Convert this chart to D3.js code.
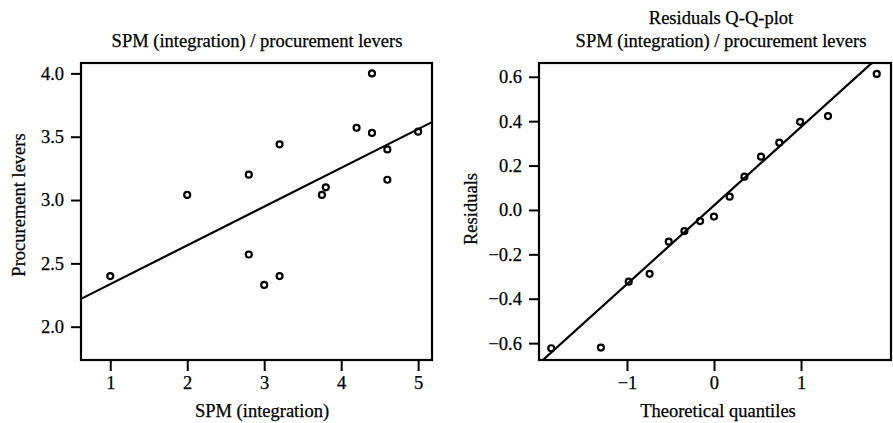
<!DOCTYPE html>
<html>
<head>
<meta charset="utf-8">
<script src="https://cdn.jsdelivr.net/npm/d3@7"></script>
<style>
  html, body { margin: 0; padding: 0; background: #fff; }
  svg { display: block; }
  text { font-family: "Liberation Serif", "Times New Roman", serif; fill: #000; stroke: #000; stroke-width: 0.25px; }
</style>
</head>
<body>
<svg id="chart" width="893" height="423"></svg>
<script>
// ---------- DATA ----------
// Left panel: scatter of SPM (integration) vs Procurement levers
const spmIntegration = [1, 2, 2.8, 2.8, 3, 3.2, 3.2, 3.75, 3.8, 4.2, 4.4, 4.4, 4.6, 4.6, 5];
const procurementLevers = [2.40, 3.04, 3.20, 2.57, 2.33, 2.40, 3.44, 3.04, 3.10, 3.57, 4.00, 3.53, 3.40, 3.16, 3.54];
// Fitted regression line [intercept, slope]
const fitLine = [2.03, 0.306];
const leftXTicks = [1, 2, 3, 4, 5];
const leftYTicks = [2.0, 2.5, 3.0, 3.5, 4.0];

// Right panel: residuals Q-Q plot
const theoreticalQuantiles = [-1.87, -1.30, -0.98, -0.74, -0.52, -0.34, -0.16, 0, 0.18, 0.35, 0.54, 0.75, 0.99, 1.31, 1.87];
const sampleResiduals = [-0.623, -0.620, -0.323, -0.288, -0.143, -0.095, -0.050, -0.030, 0.060, 0.150, 0.240, 0.303, 0.397, 0.423, 0.613];
// Q-Q reference line [intercept, slope]
const qqLine = [0.02, 0.354];
const rightXTicks = [-1, 0, 1];
const rightYTicks = [-0.6, -0.4, -0.2, 0.0, 0.2, 0.4, 0.6];

const leftTitle = ["SPM (integration) / procurement levers"];
const rightTitle = ["Residuals Q-Q-plot", "SPM (integration) / procurement levers"];

// ---------- DRAWING ----------
const svg = d3.select("#chart");
const FS = 18.5;

function panel(opts) {
  const { box, xDomain, yDomain, xs, ys, line, xTicks, yTicks, yFmt, titles, titleX, titleBase,
          xLabel, xLabelX, yLabel, yLabelY, yLabelX, id } = opts;
  const x = d3.scaleLinear().domain(xDomain).range([box.x0, box.x1]);
  const y = d3.scaleLinear().domain(yDomain).range([box.y1, box.y0]);
  const g = svg.append("g");

  g.append("clipPath").attr("id", id).append("rect")
    .attr("x", box.x0).attr("y", box.y0)
    .attr("width", box.x1 - box.x0).attr("height", box.y1 - box.y0);

  // Regression / reference line
  const lf = d3.line().x(d => x(d)).y(d => y(line[0] + line[1] * d));
  g.append("path")
    .attr("clip-path", `url(#${id})`)
    .attr("d", lf(xDomain))
    .attr("fill", "none").attr("stroke", "#000").attr("stroke-width", 2.2);

  // Points
  g.selectAll("circle.pt").data(xs.map((v, i) => [v, ys[i]])).enter()
    .append("circle").attr("class", "pt")
    .attr("cx", d => x(d[0])).attr("cy", d => y(d[1]))
    .attr("r", 3).attr("fill", "none").attr("stroke", "#000").attr("stroke-width", 2.2);

  // Axes
  const xAxis = d3.axisBottom(x).tickValues(xTicks).tickSize(11).tickPadding(5)
    .tickFormat(d3.format("d"));
  const gx = g.append("g").attr("transform", `translate(0,${box.y1})`).call(xAxis);
  const yAxis = d3.axisLeft(y).tickValues(yTicks).tickSize(10).tickPadding(7)
    .tickFormat(yFmt);
  const gy = g.append("g").attr("transform", `translate(${box.x0},0)`).call(yAxis);
  [gx, gy].forEach(a => {
    a.select(".domain").remove();
    a.selectAll(".tick line").attr("stroke", "#000").attr("stroke-width", 2);
    a.selectAll(".tick text").attr("font-family", "Liberation Serif").attr("font-size", FS).attr("fill", "#000");
  });

  // Box
  g.append("rect")
    .attr("x", box.x0).attr("y", box.y0)
    .attr("width", box.x1 - box.x0).attr("height", box.y1 - box.y0)
    .attr("fill", "none").attr("stroke", "#000").attr("stroke-width", 2.2);

  // Titles
  titles.forEach((t, i) => {
    g.append("text").attr("x", titleX).attr("y", titleBase[i])
      .attr("text-anchor", "middle").attr("font-size", FS).text(t);
  });
  // Axis labels
  g.append("text").attr("x", xLabelX).attr("y", 417)
    .attr("text-anchor", "middle").attr("font-size", FS).text(xLabel);
  g.append("text")
    .attr("transform", `translate(${yLabelX},${yLabelY}) rotate(-90)`)
    .attr("text-anchor", "middle").attr("font-size", FS).text(yLabel);
}

panel({
  id: "clipL",
  box: { x0: 81, x1: 432, y0: 63, y1: 360 },
  xDomain: [0.62, 5.18], yDomain: [1.737, 4.082],
  xs: spmIntegration, ys: procurementLevers, line: fitLine,
  xTicks: leftXTicks, yTicks: leftYTicks, yFmt: d3.format(".1f"),
  titles: leftTitle, titleX: 257, titleBase: [46.5],
  xLabel: "SPM (integration)", xLabelX: 262,
  yLabel: "Procurement levers", yLabelY: 205, yLabelX: 25
});

panel({
  id: "clipR",
  box: { x0: 539, x1: 891, y0: 63, y1: 360 },
  xDomain: [-2.011, 2.034], yDomain: [-0.676, 0.662],
  xs: theoreticalQuantiles, ys: sampleResiduals, line: qqLine,
  xTicks: rightXTicks, yTicks: rightYTicks, yFmt: d3.format(".1f"),
  titles: rightTitle, titleX: 721, titleBase: [23.5, 46.5],
  xLabel: "Theoretical quantiles", xLabelX: 718,
  yLabel: "Residuals", yLabelY: 209, yLabelX: 477
});
</script>
</body>
</html>
